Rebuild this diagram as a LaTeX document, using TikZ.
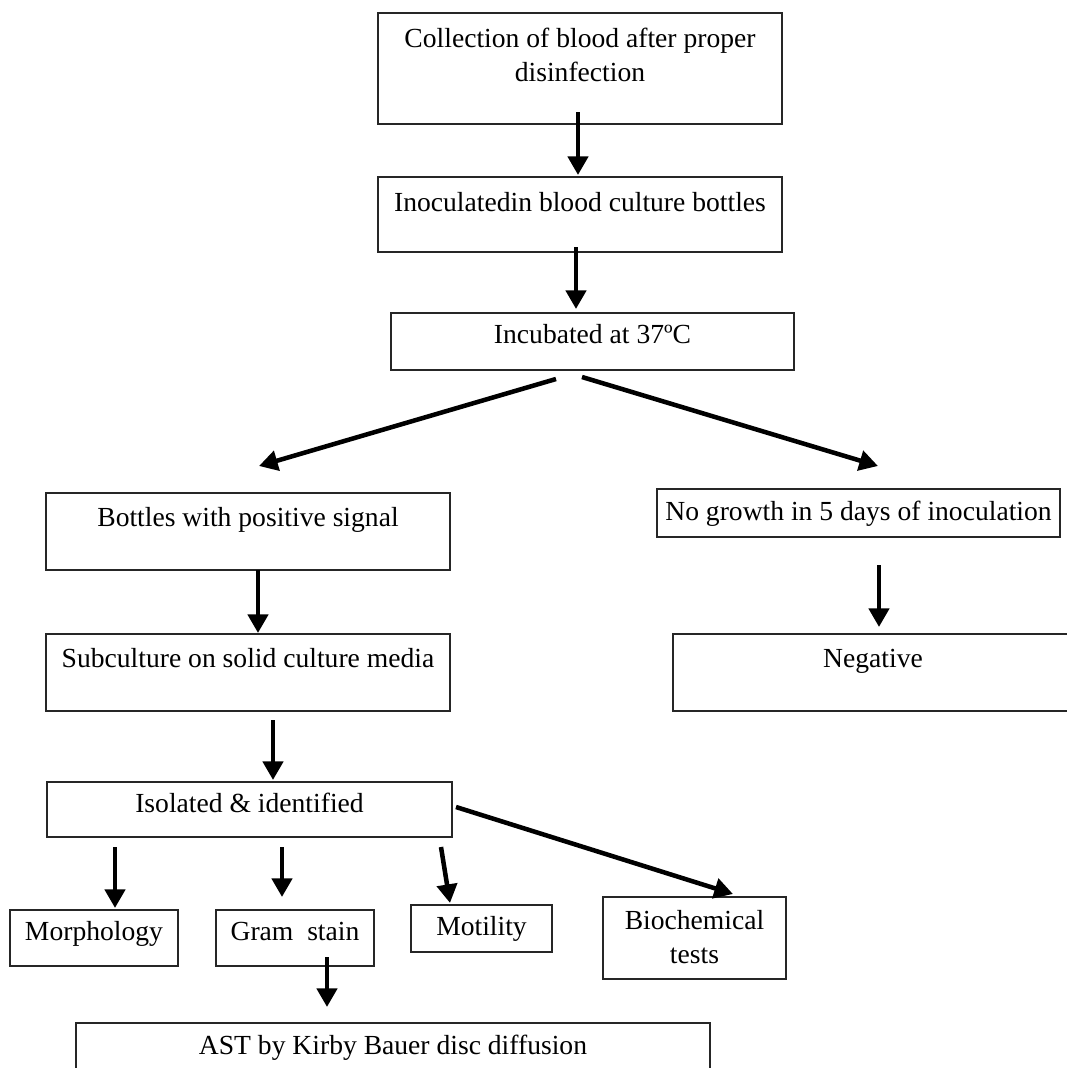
\documentclass[tikz,border=0pt]{standalone}
\usepackage{fontspec}
\setmainfont{Liberation Serif}
\usetikzlibrary{arrows.meta,calc}
\newcommand\flowbox[7]{%
  \pgfmathsetmacro\fbw{(#4-#2)*0.75}%
  \pgfmathsetmacro\fbh{(#6-#3)*0.75}%
  \pgfmathsetmacro\fbd{(#5-#6)*0.75}%
  \node[box, minimum width=\fbw pt, text height=\fbh pt, text depth=\fbd pt] (#1) at (#2,#3) {#7};}
\begin{document}
\begin{tikzpicture}[x=0.75pt,y=-0.75pt,
  box/.style={draw=black!85, line width=1.1pt, inner xsep=0pt, inner ysep=0pt, outer sep=0pt,
    anchor=north west, align=center, font=\fontsize{20.7}{25.5}\selectfont},
  arr/.style={line width=3.4pt, -{Triangle[length=14pt,width=15pt]}}]
\fill[white] (0,0) rectangle (1067,1068);
\useasboundingbox (0,0) rectangle (1067,1068);
\flowbox{n1}{378}{13}{782}{124}{81}{Collection of blood after proper\\disinfection}
\flowbox{n2}{378}{177}{782}{252}{211}{Inoculatedin blood culture bottles}
\flowbox{n3}{391}{313}{794}{370}{343}{Incubated at 37ºC}
\flowbox{n4}{46}{493}{450}{570}{526}{Bottles with positive signal}
\flowbox{n5}{657}{489}{1060}{537}{520}{No growth in 5 days of inoculation}
\flowbox{n6}{46}{634}{450}{711}{667}{Subculture on solid culture media}
\flowbox{n7}{673}{634}{1073}{711}{667}{Negative}
\flowbox{n8}{47}{782}{452}{837}{812}{Isolated \& identified}
\flowbox{n9}{10}{910}{178}{966}{940}{Morphology}
\flowbox{n10}{216}{910}{374}{966}{940}{Gram\ \ stain}
\flowbox{n11}{411}{905}{552}{952}{935}{Motility}
\flowbox{n12}{603}{897}{786}{979}{963}{Biochemical\\tests}
\flowbox{n13}{76}{1023}{710}{1090}{1054}{AST by Kirby Bauer disc diffusion}
% connectors
\draw[arr] ($(n1.south)+(-2,-12)$) -- ($(n2.north)+(-2,-2)$);
\draw[arr] ($(n2.south)+(-4,-5)$) -- ($(n3.north)+(-16.5,-4)$);
\draw[arr] ($(n3.south)+(-36.5,9)$) -- ($(n4.north)+(11,-27)$);
\draw[arr] ($(n3.south)+(-10.5,7)$) -- ($(n5.north)+(19.5,-23)$);
\draw[arr] ($(n4.south)+(10,0)$) -- ($(n6.north)+(10,-1)$);
\draw[arr] ($(n5.south)+(20.5,28)$) -- ($(n7.north)+(6,-7)$);
\draw[arr] ($(n6.south)+(25,9)$) -- ($(n8.north)+(23.5,-2)$);
\draw[arr] ($(n8.south)+(-134.5,10)$) -- ($(n9.north)+(21,-2)$);
\draw[arr] ($(n8.south)+(32.5,10)$) -- ($(n10.north)+(-13,-13)$);
\draw[arr] ($(n8.south)+(191.5,10)$) -- ($(n11.north)+(-31.5,-2)$);
\draw[arr] ($(n8.east)+(4,-2.5)$) -- ($(n12.north)+(38.5,-3)$);
\draw[arr] ($(n10.south)+(32,-9)$) -- ($(n13.north)+(-66,-16)$);
\end{tikzpicture}
\end{document}
